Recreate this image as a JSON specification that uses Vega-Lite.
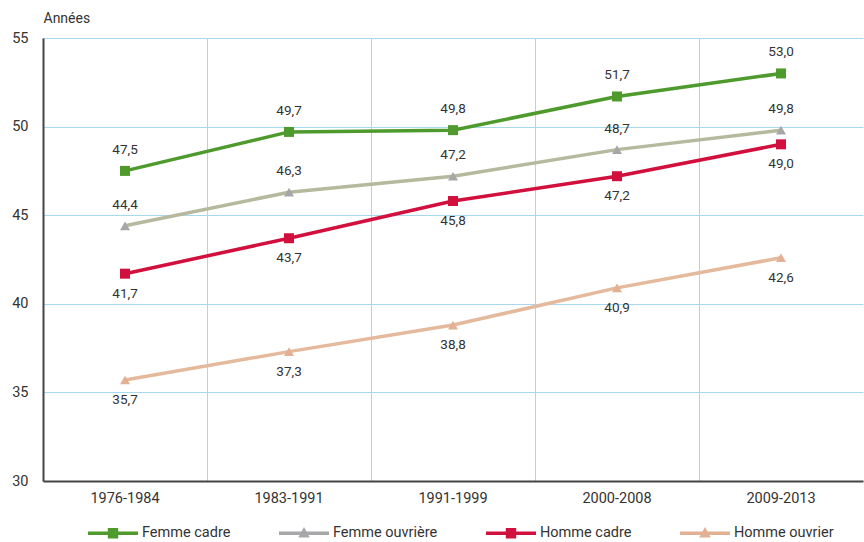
{
  "$schema": "https://vega.github.io/schema/vega-lite/v6.json",
  "width": 820,
  "height": 443,
  "autosize": "none",
  "padding": {"left": 43, "top": 38, "right": 1, "bottom": 61},
  "config": {
    "font": "Roboto",
    "view": {"stroke": null},
    "axisX": {"gridColor": "#a8d8f0"},
    "locale": {"number": {"decimal": ",", "thousands": " ", "grouping": [3], "currency": ["", " €"]}}
  },
  "data": {
    "values": [
      {"periode": "1976-1984", "serie": "Femme cadre", "valeur": 47.5},
      {"periode": "1983-1991", "serie": "Femme cadre", "valeur": 49.7},
      {"periode": "1991-1999", "serie": "Femme cadre", "valeur": 49.8},
      {"periode": "2000-2008", "serie": "Femme cadre", "valeur": 51.7},
      {"periode": "2009-2013", "serie": "Femme cadre", "valeur": 53.0},
      {"periode": "1976-1984", "serie": "Femme ouvrière", "valeur": 44.4},
      {"periode": "1983-1991", "serie": "Femme ouvrière", "valeur": 46.3},
      {"periode": "1991-1999", "serie": "Femme ouvrière", "valeur": 47.2},
      {"periode": "2000-2008", "serie": "Femme ouvrière", "valeur": 48.7},
      {"periode": "2009-2013", "serie": "Femme ouvrière", "valeur": 49.8},
      {"periode": "1976-1984", "serie": "Homme cadre", "valeur": 41.7},
      {"periode": "1983-1991", "serie": "Homme cadre", "valeur": 43.7},
      {"periode": "1991-1999", "serie": "Homme cadre", "valeur": 45.8},
      {"periode": "2000-2008", "serie": "Homme cadre", "valeur": 47.2},
      {"periode": "2009-2013", "serie": "Homme cadre", "valeur": 49.0},
      {"periode": "1976-1984", "serie": "Homme ouvrier", "valeur": 35.7},
      {"periode": "1983-1991", "serie": "Homme ouvrier", "valeur": 37.3},
      {"periode": "1991-1999", "serie": "Homme ouvrier", "valeur": 38.8},
      {"periode": "2000-2008", "serie": "Homme ouvrier", "valeur": 40.9},
      {"periode": "2009-2013", "serie": "Homme ouvrier", "valeur": 42.6}
    ]
  },
  "encoding": {
    "y": {
      "field": "valeur",
      "type": "quantitative",
      "scale": {"domain": [30, 55], "nice": false, "zero": false},
      "axis": {
        "values": [30, 35, 40, 45, 50, 55],
        "domain": true,
        "domainColor": "#444444",
        "domainWidth": 2,
        "ticks": false,
        "grid": true,
        "gridColor": "#a8d8f0",
        "gridWidth": 1,
        "labelPadding": 15,
        "labelFontSize": 14.5,
        "labelColor": "#333333",
        "title": "Années",
        "titleAngle": 0,
        "titleX": 0,
        "titleY": -20,
        "titleAlign": "left",
        "titleBaseline": "middle",
        "titleFontWeight": "normal",
        "titleFontSize": 14,
        "titleColor": "#333333"
      }
    }
  },
  "resolve": {"axis": {"x": "independent"}},
  "layer": [
    {
      "mark": {"type": "line", "strokeWidth": 3.5},
      "encoding": {
        "x": {
          "field": "periode",
          "type": "ordinal",
          "scale": {"type": "band", "paddingInner": 0, "paddingOuter": 0},
          "axis": {"orient": "bottom", "grid": true, "bandPosition": 0, "gridColor": "#a8d8f0", "gridWidth": 1, "labels": false, "ticks": false, "domain": false, "title": null}
        },
        "stroke": {
          "field": "serie",
          "type": "nominal",
          "scale": {"domain": ["Femme ouvrière", "Femme cadre", "Homme ouvrier", "Homme cadre"], "range": ["#b6b99e", "#4e9a2d", "#e4b99c", "#d1103e"]},
          "legend": null
        }
      }
    },
    {
      "encoding": {
        "x": {
          "field": "periode",
          "type": "ordinal",
          "scale": {"type": "band", "paddingInner": 0, "paddingOuter": 0},
          "axis": {"orient": "bottom", "grid": false, "ticks": false, "domain": true, "domainColor": "#444444", "domainWidth": 2, "labelFontSize": 14.5, "labelColor": "#333333", "labelPadding": 10, "labelAngle": 0, "title": null}
        },
        "fill": {
          "field": "serie",
          "type": "nominal",
          "scale": {"domain": ["Femme cadre", "Femme ouvrière", "Homme cadre", "Homme ouvrier"], "range": ["#4e9a2d", "#a7a7aa", "#d1103e", "#e2b092"]},
          "legend": {
            "orient": "none",
            "legendX": 60,
            "legendY": 485,
            "direction": "horizontal",
            "columns": 4,
            "title": null,
            "padding": 0,
            "symbolSize": 400,
            "symbolStrokeWidth": 0,
            "symbolOpacity": 1,
            "labelFontSize": 14.5,
            "labelColor": "#333333",
            "labelOffset": 19,
            "columnPadding": 48,
            "encode": {
              "symbols": {
                "update": {
                  "shape": {"signal": "indexof(['Femme cadre','Homme cadre'], datum.value) >= 0 ? 'M-2.5,-0.18H2.5V0.18H-2.5Z M-0.52,-0.52H0.52V0.52H-0.52Z' : 'M-2.5,-0.18H2.5V0.18H-2.5Z M0,-0.62L0.58,0.42H-0.58Z'"}
                }
              }
            }
          }
        }
      },
      "layer": [
        {
          "transform": [{"filter": "indexof(['Femme cadre','Homme cadre'], datum.serie) >= 0"}],
          "mark": {"type": "point", "shape": "square", "filled": true, "opacity": 1, "size": 100}
        },
        {
          "transform": [{"filter": "indexof(['Femme ouvrière','Homme ouvrier'], datum.serie) >= 0"}],
          "mark": {"type": "point", "shape": "triangle-up", "filled": true, "opacity": 1, "size": 100}
        }
      ]
    },
    {
      "transform": [{"filter": "indexof(['Femme cadre','Femme ouvrière'], datum.serie) >= 0"}],
      "mark": {"type": "text", "dy": -21, "fontSize": 13.5, "color": "#333333", "baseline": "middle"},
      "encoding": {
        "x": {"field": "periode", "type": "ordinal", "scale": {"type": "band", "paddingInner": 0, "paddingOuter": 0}, "axis": null},
        "text": {"field": "valeur", "type": "quantitative", "format": ".1f"}
      }
    },
    {
      "transform": [{"filter": "indexof(['Homme cadre','Homme ouvrier'], datum.serie) >= 0"}],
      "mark": {"type": "text", "dy": 20, "fontSize": 13.5, "color": "#333333", "baseline": "middle"},
      "encoding": {
        "x": {"field": "periode", "type": "ordinal", "scale": {"type": "band", "paddingInner": 0, "paddingOuter": 0}, "axis": null},
        "text": {"field": "valeur", "type": "quantitative", "format": ".1f"}
      }
    }
  ]
}
